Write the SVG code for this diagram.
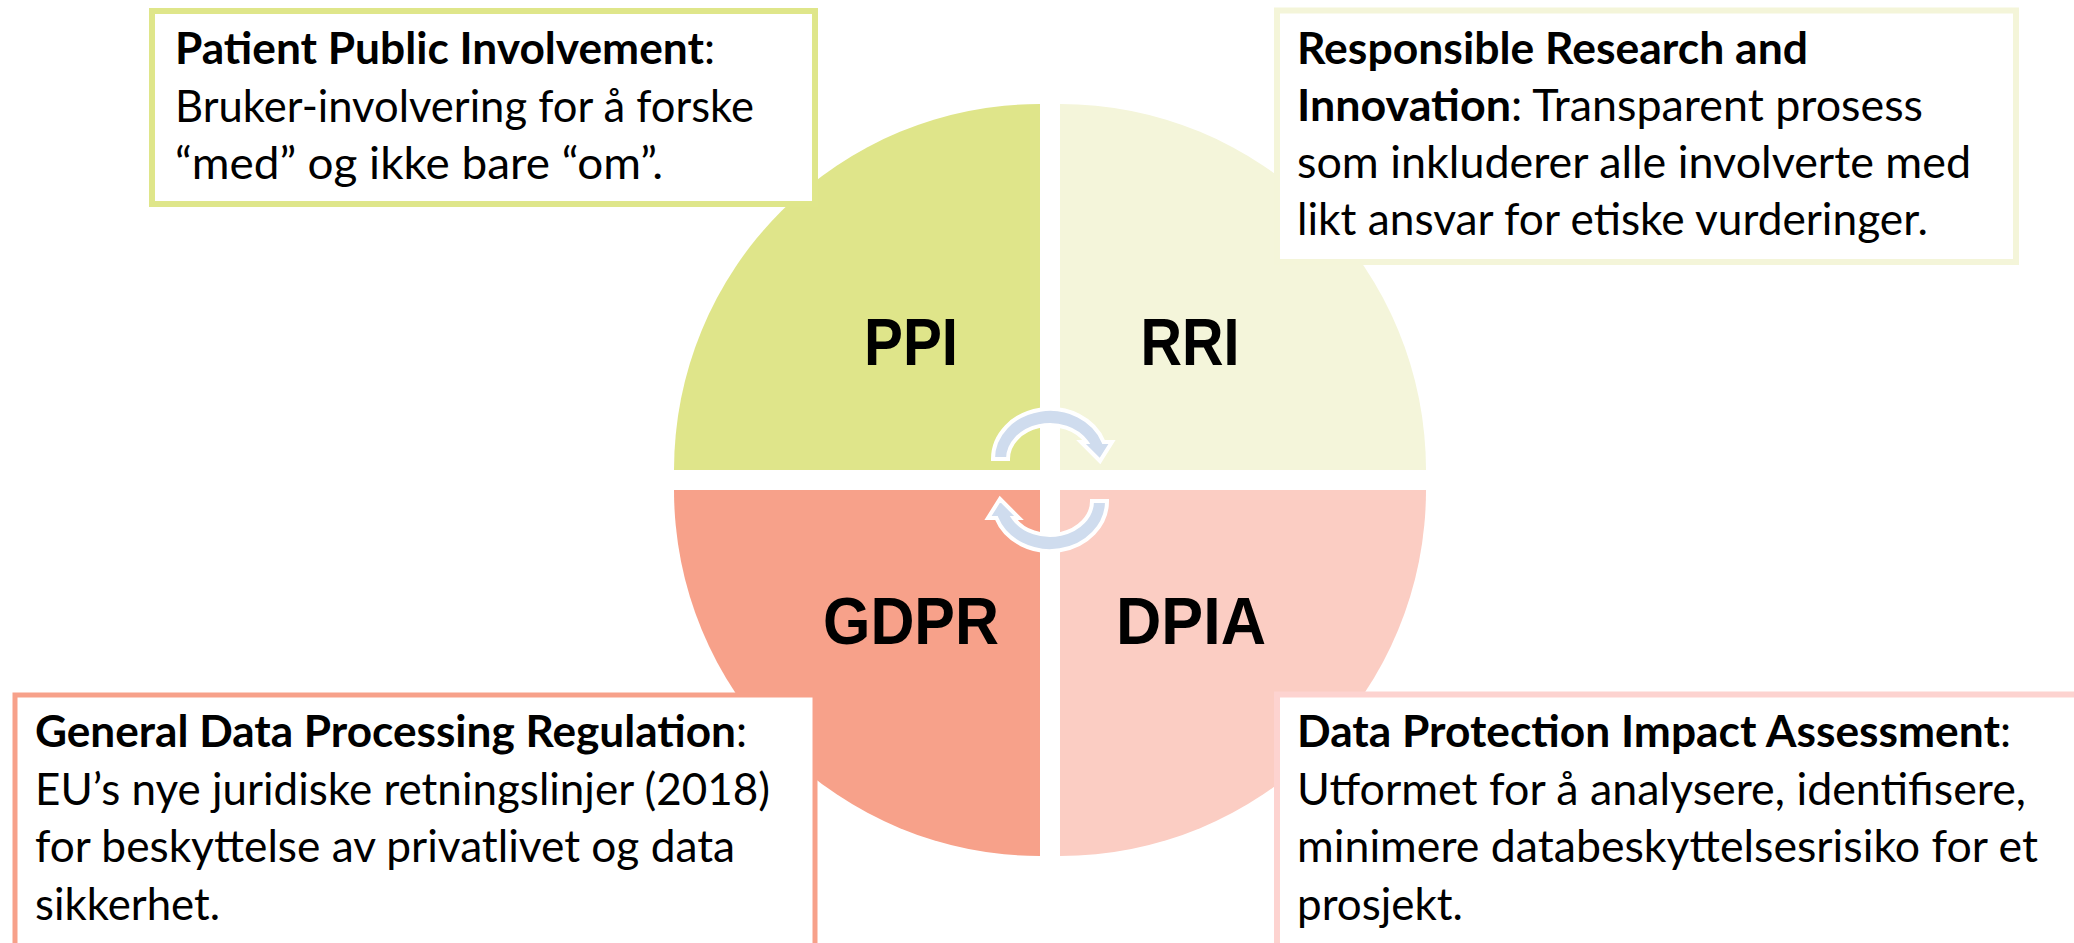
<svg xmlns="http://www.w3.org/2000/svg" width="2074" height="943" viewBox="0 0 2074 943">
<style>
.box{fill:#ffffff}
.t{font-family:Lato,"Liberation Sans",sans-serif;font-size:44px;fill:#000}
.b{font-weight:bold}
.big{font-family:"Liberation Sans",Arial,sans-serif;font-size:66px;font-weight:bold;fill:#000;text-anchor:middle}
.arr{fill:#CFDCEE;stroke:#ffffff;stroke-width:4;stroke-linejoin:miter}
</style>
<defs>
<path id="arrowShape" d="M993,459 A57,50 0 0 1 1103.6,441.9 L1112,442 L1100,461 L1081,442 L1086.4,442 A42,34 0 0 0 1008,459 Z"/>
</defs>
<rect width="2074" height="943" fill="#ffffff"/>
<g id="quad-ppi">
<path d="M1040,470 L674,470 A366,366 0 0 1 1040,104 Z" fill="#DFE58A"/>
<text class="big" x="911" y="365" textLength="94" lengthAdjust="spacingAndGlyphs">PPI</text>
</g>
<g id="quad-rri">
<path d="M1060,470 L1060,104 A366,366 0 0 1 1426,470 Z" fill="#F4F5DA"/>
<text class="big" x="1190" y="365" textLength="99" lengthAdjust="spacingAndGlyphs">RRI</text>
</g>
<g id="quad-gdpr">
<path d="M1040,490 L1040,856 A366,366 0 0 1 674,490 Z" fill="#F7A18A"/>
<text class="big" x="911" y="644" textLength="176" lengthAdjust="spacingAndGlyphs">GDPR</text>
</g>
<g id="quad-dpia">
<path d="M1060,490 L1426,490 A366,366 0 0 1 1060,856 Z" fill="#FBCDC3"/>
<text class="big" x="1191" y="644" textLength="150" lengthAdjust="spacingAndGlyphs">DPIA</text>
</g>
<g id="connectors">
<use href="#arrowShape" class="arr"/>
<use href="#arrowShape" class="arr" transform="rotate(180 1050 480)"/>
</g>
<g id="box-ppi">
<rect class="box" x="152" y="11" width="663" height="193" stroke="#DFE68A" stroke-width="6"/>
<text class="t" x="175" y="64" textLength="540" lengthAdjust="spacingAndGlyphs"><tspan class="b">Patient Public Involvement</tspan>:</text>
<text class="t" x="175" y="121.5" textLength="579" lengthAdjust="spacingAndGlyphs">Bruker-involvering for å forske</text>
<text class="t" x="175" y="179" textLength="488" lengthAdjust="spacingAndGlyphs">“med” og ikke bare “om”.</text>
</g>
<g id="box-rri">
<rect class="box" x="1277" y="10.5" width="739" height="251.5" stroke="#F4F5D9" stroke-width="6"/>
<text class="t" x="1297" y="64" textLength="511" lengthAdjust="spacingAndGlyphs"><tspan class="b">Responsible Research and</tspan></text>
<text class="t" x="1297" y="121" textLength="626" lengthAdjust="spacingAndGlyphs"><tspan class="b">Innovation</tspan>: Transparent prosess</text>
<text class="t" x="1297" y="178" textLength="674" lengthAdjust="spacingAndGlyphs">som inkluderer alle involverte med</text>
<text class="t" x="1297" y="235" textLength="631" lengthAdjust="spacingAndGlyphs">likt ansvar for etiske vurderinger.</text>
</g>
<g id="box-gdpr">
<rect class="box" x="15" y="695" width="800" height="270" stroke="#F7A18A" stroke-width="5"/>
<text class="t" x="35" y="747" textLength="712" lengthAdjust="spacingAndGlyphs"><tspan class="b">General Data Processing Regulation</tspan>:</text>
<text class="t" x="35" y="804.5" textLength="735" lengthAdjust="spacingAndGlyphs">EU’s nye juridiske retningslinjer (2018)</text>
<text class="t" x="35" y="862" textLength="700" lengthAdjust="spacingAndGlyphs">for beskyttelse av privatlivet og data</text>
<text class="t" x="35" y="919.5" textLength="185" lengthAdjust="spacingAndGlyphs">sikkerhet.</text>
</g>
<g id="box-dpia">
<rect class="box" x="1277" y="694.5" width="810" height="270" stroke="#FDD3D0" stroke-width="6"/>
<text class="t" x="1297" y="747" textLength="714" lengthAdjust="spacingAndGlyphs"><tspan class="b">Data Protection Impact Assessment</tspan>:</text>
<text class="t" x="1297" y="804.5" textLength="729" lengthAdjust="spacingAndGlyphs">Utformet for å analysere, identifisere,</text>
<text class="t" x="1297" y="862" textLength="741" lengthAdjust="spacingAndGlyphs">minimere databeskyttelsesrisiko for et</text>
<text class="t" x="1297" y="919.5" textLength="166" lengthAdjust="spacingAndGlyphs">prosjekt.</text>
</g>
</svg>
